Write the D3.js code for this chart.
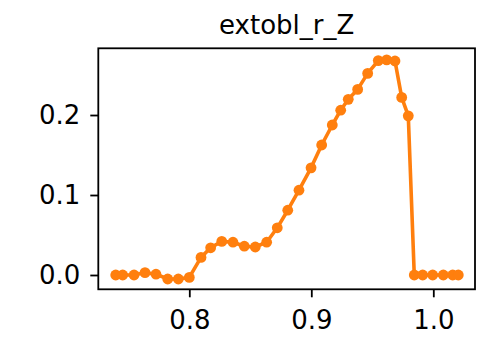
<!DOCTYPE html>
<html><head><meta charset="utf-8">
<script src="https://cdn.jsdelivr.net/npm/d3@7"></script>
<style>body{margin:0;background:#fff}svg{display:block}text{font-family:"DejaVu Sans",sans-serif}</style>
</head><body><svg id="c" width="484" height="337"></svg>
<script>
const title = "extobl_r_Z";
const xValues = [0.7397, 0.7454, 0.7547, 0.7637, 0.7727, 0.7823, 0.791, 0.800, 0.8096, 0.8175, 0.8266, 0.8358, 0.8451, 0.8541, 0.8634, 0.8721, 0.8807, 0.8899, 0.8998, 0.9085, 0.9172, 0.9241, 0.9303, 0.938, 0.9462, 0.9549, 0.9618, 0.9686, 0.9741, 0.9795, 0.9844, 0.9913, 0.9995, 1.0082, 1.0159, 1.0205];
const yValues = [0, 0, 0, 0.003, 0.001, -0.005, -0.005, -0.003, 0.022, 0.034, 0.042, 0.041, 0.036, 0.035, 0.041, 0.059, 0.081, 0.106, 0.134, 0.1625, 0.1875, 0.206, 0.2196, 0.232, 0.252, 0.268, 0.269, 0.2675, 0.222, 0.199, 0, 0, 0, 0, 0, 0];
const xTicks = [0.8, 0.9, 1.0];
const yTicks = [0.0, 0.1, 0.2];

const L = 98.3, R = 475, T = 48.3, B = 289.3;
const svg = d3.select("#c");
const x = d3.scaleLinear().domain([0.72541, 1.03418]).range([L, R]);
const y = d3.scaleLinear().domain([-0.01788, 0.2834]).range([B, T]);

const data = xValues.map((v, i) => [v, yValues[i]]);
const line = d3.line().x(d => x(d[0])).y(d => y(d[1]));
svg.append("path").datum(data).attr("d", line).attr("fill", "none")
  .attr("stroke", "#ff7f0e").attr("stroke-width", 3.6).attr("stroke-linejoin", "round");
svg.selectAll("circle.pt").data(data).enter().append("circle").attr("class", "pt")
  .attr("cx", d => x(d[0])).attr("cy", d => y(d[1])).attr("r", 5.4).attr("fill", "#ff7f0e");

const xa = svg.append("g").attr("transform", `translate(0,${B})`)
  .call(d3.axisBottom(x).tickValues(xTicks).tickFormat(d3.format(".1f")).tickSize(8).tickPadding(14).tickSizeOuter(0));
const ya = svg.append("g").attr("transform", `translate(${L},0)`)
  .call(d3.axisLeft(y).tickValues(yTicks).tickFormat(d3.format(".1f")).tickSize(8).tickPadding(10).tickSizeOuter(0));
[xa, ya].forEach(g => {
  g.select(".domain").remove();
  g.selectAll("line").attr("stroke", "#000").attr("stroke-width", 1.8);
  g.selectAll("text").attr("font-size", 26).attr("fill", "#000").attr("font-family", "DejaVu Sans");
});
xa.selectAll("text").attr("dy", "0").attr("y", 40);
svg.append("rect").attr("x", L).attr("y", T).attr("width", R - L).attr("height", B - T)
  .attr("fill", "none").attr("stroke", "#000").attr("stroke-width", 1.8);
svg.append("text").attr("x", (L + R) / 2).attr("y", 34).attr("text-anchor", "middle")
  .attr("font-size", 26).attr("fill", "#000").text(title);
</script></body></html>
